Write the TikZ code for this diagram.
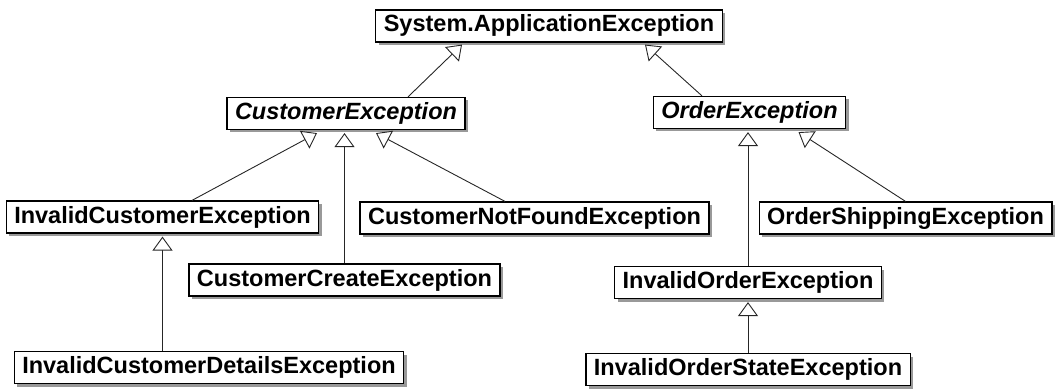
\documentclass[tikz,border=0pt]{standalone}
\usepackage{fontspec}
\setmainfont{Liberation Sans}
\usepackage{tikz}
\usetikzlibrary{arrows.meta,shadows}

\begin{document}
\begin{tikzpicture}[
    x=1pt, y=-1pt,
    cls/.style={rectangle,draw=black,fill=white,line width=1.2pt,
      font=\fontsize{23.5}{28}\selectfont\bfseries,inner xsep=8pt,inner ysep=5pt,
      text height=17pt,text depth=5pt,
      drop shadow={shadow xshift=3pt,shadow yshift=-3pt,draw=none,fill=black!40,opacity=1}},
    abst/.style={cls,font=\fontsize{23.5}{28}\selectfont\bfseries\itshape},
    inh/.style={draw=black!85,line width=0.9pt,
      -{Triangle[open,fill=white,length=14pt,width=20pt]}},
  ]
  \useasboundingbox (0,0) rectangle (1059,390);
  % Level 0 - Root
  \node[cls] (sysapp) at (549,26) {System.ApplicationException};
  % Level 1
  \node[abst] (custex) at (346,113.5) {CustomerException};
  \node[abst] (orderex) at (749.5,112.5) {OrderException};
  \draw[inh] ([xshift=62pt]custex.north) -- ([xshift=-87pt,yshift=-2pt]sysapp.south);
  \draw[inh] ([xshift=-47.5pt]orderex.north) -- ([xshift=96pt,yshift=-2pt]sysapp.south);
  % Level 2 under CustomerException
  \node[cls] (invcust) at (162.5,217) {InvalidCustomerException};
  \node[cls] (custnf) at (534.5,218) {CustomerNotFoundException};
  \node[cls] (custcreate) at (344.5,280) {CustomerCreateException};
  \draw[inh] ([xshift=29.5pt]invcust.north) -- ([xshift=-29pt,yshift=-3pt]custex.south);
  \draw[inh] (custcreate.north) -- ([yshift=-3pt]custcreate.north |- custex.south);
  \draw[inh] ([xshift=-29.5pt]custnf.north) -- ([xshift=30pt,yshift=-3pt]custex.south);
  % Level 2 under OrderException
  \node[cls] (ordship) at (905.5,218) {OrderShippingException};
  \node[cls] (invorder) at (748,282.5) {InvalidOrderException};
  \draw[inh] (invorder.north) -- ([yshift=-3pt]invorder.north |- orderex.south);
  \draw[inh] (ordship.north) -- ([xshift=49pt,yshift=-3pt]orderex.south);
  % Level 3 leaves
  \node[cls] (invcustdet) at (209,367.5) {InvalidCustomerDetailsException};
  \node[cls] (invorderstate) at (748,369.5) {InvalidOrderStateException};
  \draw[inh] (invcustdet.north -| invcust.south) -- ([yshift=-3pt]invcust.south);
  \draw[inh] (invorderstate.north) -- ([yshift=-3pt]invorder.south);
\end{tikzpicture}
\end{document}
